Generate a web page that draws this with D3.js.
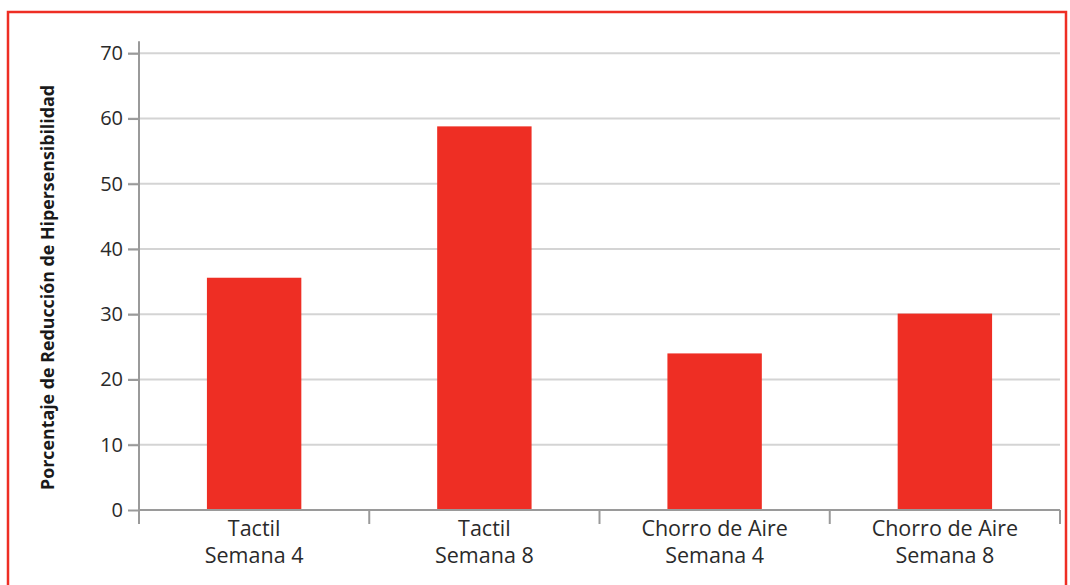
<!DOCTYPE html>
<html lang="es">
<head>
  <meta charset="UTF-8" />
  <title>Reducción de Hipersensibilidad</title>
  <style>
    * { margin:0; padding:0; box-sizing:border-box; }
    body { background:#fff; width:1070px; height:585px; overflow:hidden; font-family:'Open Sans',sans-serif; }
    svg { display:block; }
    .grid line { stroke:#d4d4d4; stroke-width:2px; }
    .axis path, .axis line { stroke:#9a9a9a; stroke-width:2px; }
    .axis text { fill:#2a2a2a; font-family:'Open Sans',sans-serif; }
    .ylab text { font-size:20px; }
    .xlab text { font-size:21.5px; }
    .bar { fill:#ee2e24; }
    .ytitle { font-size:17px; font-weight:700; fill:#1a1a1a; }
  </style>
</head>
<body>
<script src="https://d3js.org/d3.v7.min.js"></script>
<script>
  const categories = [['Tactil','Semana 4'],['Tactil','Semana 8'],['Chorro de Aire','Semana 4'],['Chorro de Aire','Semana 8']];
  const values = [35.6, 58.8, 24.0, 30.1];
  const yTicks = [0,10,20,30,40,50,60,70];
  const yTitle = 'Porcentaje de Reducción de Hipersensibilidad';

  const W = 1070, H = 585;
  const mLeft = 139, mRight = 1060, mTop = 53.3, mBottom = 510;
  const svg = d3.select('body').append('svg').attr('width',W).attr('height',H);

  // red frame, no bottom edge
  svg.append('path')
    .attr('d',`M8,${H} V12 H1066 V${H}`)
    .attr('fill','none').attr('stroke','#ee2e24').attr('stroke-width',2.5);

  const keys = categories.map((c,i)=>i);
  const x = d3.scaleBand().domain(keys).range([mLeft,mRight]).padding(0);
  const y = d3.scaleLinear().domain([0,70]).range([mBottom,mTop]);
  const barW = x.bandwidth()*0.41;

  svg.append('g').attr('class','grid').selectAll('line').data(yTicks.filter(d=>d>0)).join('line')
    .attr('x1',mLeft-11).attr('x2',mRight).attr('y1',d=>y(d)).attr('y2',d=>y(d));

  svg.append('g').selectAll('rect').data(values).join('rect')
    .attr('class','bar')
    .attr('x',(d,i)=>x(i)+x.bandwidth()/2-barW/2)
    .attr('width',barW)
    .attr('y',d=>y(d)).attr('height',d=>y(0)-y(d));

  // y axis
  const ya = svg.append('g').attr('class','axis ylab').attr('transform',`translate(${mLeft},0)`)
    .call(d3.axisLeft(y).tickValues(yTicks).tickSize(11).tickSizeOuter(0).tickPadding(5));
  ya.select('.domain').attr('d',`M0,${mTop-12}V${mBottom+13}`);
  ya.selectAll('.tick line').attr('stroke','#d4d4d4');
  ya.selectAll('.tick').filter(d=>d===0).select('line').attr('stroke','#9a9a9a');

  // x axis, ticks at band boundaries
  const xa = svg.append('g').attr('class','axis xlab').attr('transform',`translate(0,${mBottom})`);
  xa.append('path').attr('d',`M${mLeft},0H${mRight}`);
  xa.selectAll('line.b').data(d3.range(categories.length+1)).join('line')
    .attr('x1',i=>mLeft+i*x.step()).attr('x2',i=>mLeft+i*x.step())
    .attr('y1',0).attr('y2',14);
  const lab = xa.selectAll('text').data(categories).join('text')
    .attr('text-anchor','middle')
    .attr('x',(d,i)=>x(i)+x.bandwidth()/2);
  lab.selectAll('tspan').data(d=>d).join('tspan')
    .attr('x',function(){ return d3.select(this.parentNode).attr('x'); })
    .attr('y',(d,j)=>26+j*27).text(d=>d);

  svg.append('text').attr('class','ytitle')
    .attr('transform',`translate(54,${(85+490)/2}) rotate(-90)`)
    .attr('text-anchor','middle')
    .attr('textLength',405).attr('lengthAdjust','spacingAndGlyphs')
    .text(yTitle);
</script>
</body>
</html>
